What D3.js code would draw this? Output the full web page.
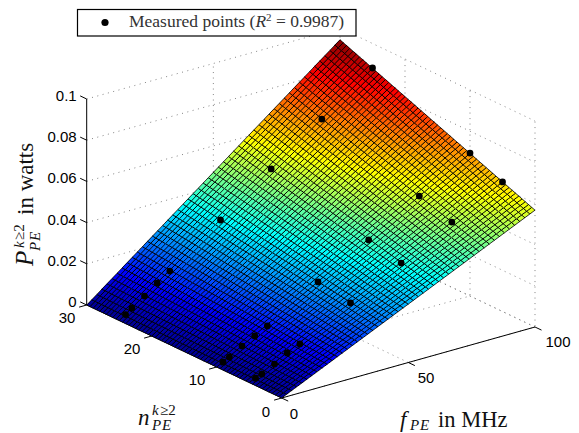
<!DOCTYPE html>
<html>
<head>
<meta charset="utf-8">
<script src="https://cdn.jsdelivr.net/npm/d3@7"></script>
<style>
  html, body { margin: 0; padding: 0; background: #fff; }
  .tick { font: 15px "Liberation Sans", sans-serif; fill: #000; text-anchor: middle; }
  .tex { font-family: "Liberation Serif", serif; fill: #111; }
</style>
</head>
<body>
<div data-js-graph></div>
<script>
const fTicks = [0, 50, 100];
const nTicks = [0, 10, 20, 30];
const pTicks = [0, 0.02, 0.04, 0.06, 0.08, 0.1];
const pTickLabels = ['0', '0.02', '0.04', '0.06', '0.08', '0.1'];

// measured points, three rows of nine
const measuredF = [100, 80, 60, 40, 20, 15, 10, 5, 2.5];
const measuredN = [25, 10, 5];
const measuredP25 = [0.0881, 0.0702, 0.0529, 0.0350, 0.0171, 0.0130, 0.0084, 0.0043, 0.0020];
const measuredP10 = [0.0694, 0.0554, 0.0410, 0.0275, 0.0130, 0.0099, 0.0067, 0.0031, 0.0015];
const measuredP5 = [0.0629, 0.0503, 0.0373, 0.0248, 0.0118, 0.0092, 0.0055, 0.0024, 0.0012];

// fitted surface height at f=100, read at n=0 and n=30. It is zero along f=0.
const surfaceN = [0, 30];
const surfaceP = [0.0567, 0.0943];
const surfaceCellsF = 50;
const surfaceCellsN = 60;

const jetStops = ['#00008f', '#0000ff', '#00ffff', '#ffff00', '#ff0000', '#800000'];
const jetDomain = [0, 0.125, 0.375, 0.625, 0.875, 1];

const svg = d3.select('[data-js-graph]').append('svg')
  .attr('width', 579)
  .attr('height', 433)
  .style('display', 'block');

// oblique projection: every data axis moves the screen point along its own direction
const origin = [281.7, 398];
const fx = d3.scaleLinear().domain([0, 100]).range([0, 253.3]);
const fy = d3.scaleLinear().domain([0, 100]).range([0, -71]);
const nx = d3.scaleLinear().domain([0, 30]).range([0, -195]);
const ny = d3.scaleLinear().domain([0, 30]).range([0, -93]);
const py = d3.scaleLinear().domain([0, 0.1]).range([0, -206]);
const project = (f, n, p) => [
  origin[0] + fx(f) + nx(n),
  origin[1] + fy(f) + ny(n) + py(p),
];

const pAtFullF = d3.scaleLinear().domain(surfaceN).range(surfaceP);
const surfaceHeight = (f, n) => (f / 100) * pAtFullF(n);
const jet = d3.scaleLinear()
  .domain(jetDomain.map((d) => d * surfaceP[1]))
  .range(jetStops);

const line = d3.line();

// dotted box grid
const grid = svg.append('g')
  .attr('fill', 'none')
  .attr('stroke', '#666')
  .attr('stroke-width', 0.8)
  .attr('stroke-dasharray', '1 4.5');
const gridLines = [];
pTicks.forEach((p) => {
  gridLines.push([project(0, 30, p), project(100, 30, p), project(100, 0, p)]);
});
fTicks.filter((f) => f > 0).forEach((f) => {
  gridLines.push([project(f, 0, 0), project(f, 30, 0), project(f, 30, 0.1)]);
});
nTicks.forEach((n) => {
  gridLines.push([project(0, n, 0), project(100, n, 0), project(100, n, 0.1)]);
});
grid.selectAll('path').data(gridLines).enter().append('path').attr('d', line);

// axes and ticks
const axes = svg.append('g')
  .attr('fill', 'none')
  .attr('stroke', '#000')
  .attr('stroke-width', 1);
const axisPaths = [
  [project(0, 30, 0), project(0, 30, 0.1)],
  [project(0, 30, 0), project(0, 0, 0)],
  [project(0, 0, 0), project(100, 0, 0)],
];
pTicks.forEach((p) => axisPaths.push([project(0, 30, p), project(0, 31, p)]));
nTicks.forEach((n) => axisPaths.push([project(0, n, 0), project(-3, n, 0)]));
fTicks.forEach((f) => axisPaths.push([project(f, 0, 0), project(f, -1, 0)]));
axes.selectAll('path').data(axisPaths).enter().append('path').attr('d', line);

// surface, back cells first
const cellsF = d3.range(surfaceCellsF).map((i) => (i * 100) / surfaceCellsF);
const cellsN = d3.range(surfaceCellsN).map((i) => (i * 30) / surfaceCellsN);
const stepF = 100 / surfaceCellsF;
const stepN = 30 / surfaceCellsN;
const cells = d3.cross(cellsF, cellsN, (f, n) => ({ f, n }));

svg.append('g')
  .attr('stroke', '#000')
  .attr('stroke-width', 0.8)
  .attr('stroke-linejoin', 'round')
  .attr('shape-rendering', 'crispEdges')
  .selectAll('path')
  .data(cells)
  .enter()
  .append('path')
  .attr('fill', (d) => jet(surfaceHeight(d.f + stepF / 2, d.n + stepN / 2)))
  .attr('d', (d) => `${line([
    project(d.f, d.n, surfaceHeight(d.f, d.n)),
    project(d.f + stepF, d.n, surfaceHeight(d.f + stepF, d.n)),
    project(d.f + stepF, d.n + stepN, surfaceHeight(d.f + stepF, d.n + stepN)),
    project(d.f, d.n + stepN, surfaceHeight(d.f, d.n + stepN)),
  ])}Z`);

// measured points
const measuredRows = [measuredP25, measuredP10, measuredP5];
const points = measuredRows.flatMap((row, r) => row.map((p, i) => project(measuredF[i], measuredN[r], p)));
svg.append('g')
  .selectAll('circle')
  .data(points)
  .enter()
  .append('circle')
  .attr('cx', (d) => d[0])
  .attr('cy', (d) => d[1])
  .attr('r', 3.4)
  .attr('fill', '#000');

// tick labels
const tickLabels = svg.append('g').attr('class', 'ticks');
pTicks.forEach((p, i) => {
  const [x, y] = project(0, 30, p);
  tickLabels.append('text').attr('class', 'tick')
    .attr('x', x - 10).attr('y', y + 2)
    .style('text-anchor', 'end')
    .text(pTickLabels[i]);
});
const nLabelPos = [[266, 417], [197, 385], [132, 354], [67, 323]];
nTicks.forEach((n, i) => {
  tickLabels.append('text').attr('class', 'tick')
    .attr('x', nLabelPos[i][0]).attr('y', nLabelPos[i][1])
    .text(n);
});
const fLabelPos = [[294, 419], [426, 383], [558, 347]];
fTicks.forEach((f, i) => {
  tickLabels.append('text').attr('class', 'tick')
    .attr('x', fLabelPos[i][0]).attr('y', fLabelPos[i][1])
    .text(f);
});

// math-looking text helper
function tex(parent, x, y, size, italic, str) {
  return parent.append('text').attr('class', 'tex')
    .attr('x', x).attr('y', y)
    .style('font-size', `${size}px`)
    .style('font-style', italic ? 'italic' : 'normal')
    .text(str);
}

// x label
tex(svg, 400, 427, 23, true, 'f');
tex(svg, 410, 429.5, 15, true, 'PE').style('letter-spacing', '0.8px');
tex(svg, 438, 427, 22.5, false, 'in MHz');

// n label
tex(svg, 138, 425, 23, true, 'n');
tex(svg, 152, 415, 15, true, 'k');
tex(svg, 160, 415, 15, false, '≥2');
tex(svg, 152, 429.5, 15, true, 'PE').style('letter-spacing', '0.8px');

// z label, rotated
const zLabel = svg.append('g').attr('transform', 'translate(33,266) rotate(-90)');
tex(zLabel, 0, 0, 25, true, 'P');
tex(zLabel, 18, -9, 15, true, 'k');
tex(zLabel, 26, -9, 15, false, '≥2');
tex(zLabel, 15, 7, 15, true, 'PE').style('letter-spacing', '0.8px');
tex(zLabel, 51, 0, 23, false, 'in watts');

// legend
const legend = svg.append('g');
legend.append('rect')
  .attr('x', 77.5).attr('y', 9.5)
  .attr('width', 278.5).attr('height', 26.5)
  .attr('fill', '#fff')
  .attr('stroke', '#000')
  .attr('stroke-width', 1.2);
legend.append('circle')
  .attr('cx', 105).attr('cy', 22.5).attr('r', 3.6)
  .attr('fill', '#000');
const legendText = tex(legend, 129, 27, 17.5, false, null).style('fill', '#333');
legendText.append('tspan').text('Measured points (');
legendText.append('tspan').style('font-style', 'italic').text('R');
legendText.append('tspan').attr('dy', -6).style('font-size', '11px').text('2');
legendText.append('tspan').attr('dy', 6).text(' = 0.9987)');
</script>
</body>
</html>
